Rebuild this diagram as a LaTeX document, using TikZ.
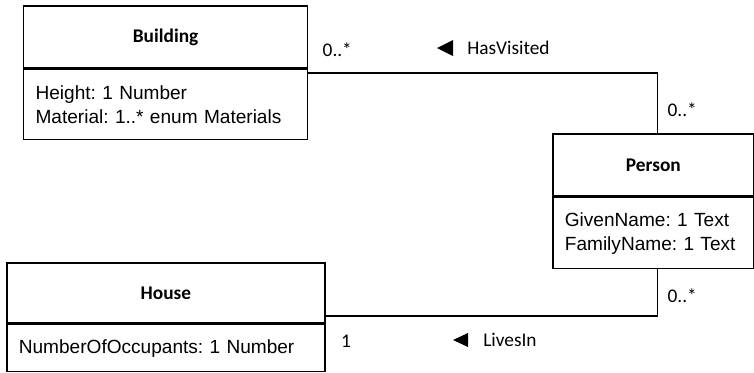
\documentclass[tikz,border=0pt]{standalone}
\usepackage{fontspec}
\setmainfont{Liberation Sans}
\newfontfamily\calibri{Carlito}
\usetikzlibrary{positioning}
\frenchspacing
\tikzset{
  class/.style={draw, line width=1.3pt, inner sep=0pt},
  class title/.style={class, anchor=north west, align=center,
    font=\calibri\bfseries\fontsize{14.5}{17}\selectfont},
  class attr/.style={class, anchor=north, align=left, inner xsep=9pt,
    font=\fontsize{14.3}{18}\selectfont},
  assoc/.style={line width=1.3pt},
  mult/.style={inner sep=0pt, font=\calibri\fontsize{14.5}{17}\selectfont},
  role/.style={inner sep=0pt, anchor=west, font=\calibri\fontsize{14.5}{17}\selectfont},
  dir mark/.style={fill=black},
}

\begin{document}
\begin{tikzpicture}[x=0.75pt, y=-0.75pt]

  \path[use as bounding box, clip] (0,0) rectangle (754,372);

  % Classes
  \node[class title, minimum width=213pt, minimum height=46.5pt] (bldg) at (22.7,5) {Building};
  \node[class attr, text width=195pt, minimum height=52.5pt] (bldg attr) at (bldg.south)
    {Height: 1 Number\\Material: 1..* enum Materials};

  \node[class title, minimum width=150.75pt, minimum height=46.5pt] (person) at (552,133) {Person};
  \node[class attr, text width=132.75pt, minimum height=53.25pt] (person attr) at (person.south)
    {GivenName: 1 Text\\FamilyName: 1 Text};

  \node[class title, minimum width=238.5pt, minimum height=45pt] (house) at (6,262) {House};
  \node[class attr, text width=220.5pt, minimum height=35.25pt] (house attr) at (house.south)
    {NumberOfOccupants: 1 Number};

  % Associations
  \coordinate (bldg end) at ([yshift=-3pt]bldg attr.north east);
  \coordinate (house end) at ([yshift=6pt]house attr.north east);
  \coordinate (person top) at ([xshift=3pt]person.north);
  \coordinate (person bottom) at ([xshift=3pt]person attr.south);
  \draw[assoc] (person top) |- (bldg end);
  \draw[assoc] (person bottom) |- (house end);

  % Multiplicities
  \node[mult, anchor=south west, above right=12pt and 10.5pt of bldg end] (m1) {0..*};
  \node[mult, anchor=south west, above right=12pt and 7.5pt of person top] (m2) {0..*};
  \node[mult, anchor=north west, below right=14.6pt and 7.5pt of person bottom] (m3) {0..*};
  \node[mult, anchor=north west, below right=14.25pt and 11.25pt of house end] (m4) {1};

  % Role names with reading direction
  \node[role] (hasvisited) at (467,48) {HasVisited};
  \node[role] (livesin) at (483,340) {LivesIn};
  \fill[dir mark] ([xshift=-10.5pt]hasvisited.west) -- ++(0,-8) -- ++(-16,8) -- ++(16,8) -- cycle;
  \fill[dir mark] ([xshift=-11.25pt]livesin.west) -- ++(0,-7) -- ++(-15,7) -- ++(15,7) -- cycle;

\end{tikzpicture}
\end{document}
